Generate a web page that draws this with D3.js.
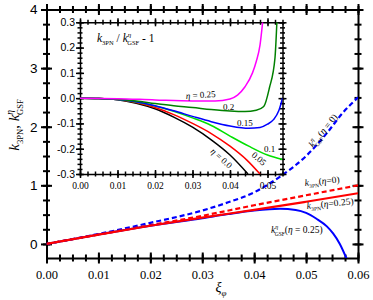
<!DOCTYPE html>
<html lang="en">
  <head>
    <meta charset="utf-8" />
    <title>k 3PN vs GSF</title>
    <script src="https://cdn.jsdelivr.net/npm/d3@7"></script>
    <style>
      body { margin: 0; background: white; }
      svg { display: block; }
    </style>
  </head>
  <body>
    <script>
      // main panel data
      const pnXi = [0, 0.01, 0.02, 0.03, 0.04, 0.05, 0.06];
      const k3pnEta0 = [0, 0.16, 0.32, 0.48, 0.66, 0.83, 1.0];
      const k3pnEta025 = [0, 0.16, 0.31, 0.45, 0.58, 0.72, 0.865];
      const gsfEta0Xi = [0, 0.01, 0.02, 0.03, 0.035, 0.04, 0.045, 0.05, 0.054, 0.057, 0.06];
      const gsfEta0 = [0, 0.17, 0.36, 0.57, 0.71, 0.88, 1.15, 1.5, 1.89, 2.23, 2.5];
      const gsfEta025Xi = [0, 0.01, 0.02, 0.03, 0.035, 0.04, 0.045, 0.048, 0.05, 0.052, 0.054, 0.0552, 0.0565, 0.0578];
      const gsfEta025 = [0, 0.16, 0.31, 0.44, 0.51, 0.57, 0.6, 0.58, 0.53, 0.43, 0.3, 0.18, 0.0, -0.25];

      // inset data: k_3PN / k_GSF - 1
      const insetEtas = ["0.0", "0.05", "0.1", "0.15", "0.2", "0.25"];
      const insetColors = ["#000000", "#ff0000", "#00e000", "#0000ff", "#008000", "#ff00ff"];
      const insetXi = [
        [0, 0.005, 0.01, 0.015, 0.02, 0.025, 0.03, 0.035, 0.04, 0.0448],
        [0, 0.005, 0.01, 0.015, 0.02, 0.025, 0.03, 0.035, 0.04, 0.0445, 0.048],
        [0, 0.005, 0.01, 0.015, 0.02, 0.025, 0.03, 0.035, 0.04, 0.045, 0.05, 0.054],
        [0, 0.005, 0.01, 0.015, 0.02, 0.025, 0.03, 0.035, 0.04, 0.045, 0.048, 0.05, 0.0516, 0.053, 0.054],
        [0, 0.005, 0.01, 0.015, 0.02, 0.025, 0.03, 0.035, 0.04, 0.044, 0.047, 0.049, 0.0505, 0.052, 0.0525],
        [0, 0.01, 0.02, 0.03, 0.036, 0.04, 0.042, 0.044, 0.046, 0.047, 0.048, 0.0487]
      ];
      const insetVals = [
        [0, -0.001, -0.006, -0.02, -0.042, -0.075, -0.115, -0.165, -0.225, -0.3],
        [0, -0.001, -0.005, -0.017, -0.037, -0.065, -0.1, -0.14, -0.19, -0.245, -0.3],
        [0, -0.001, -0.005, -0.015, -0.031, -0.052, -0.078, -0.108, -0.15, -0.19, -0.225, -0.243],
        [0, -0.001, -0.005, -0.014, -0.03, -0.05, -0.072, -0.093, -0.11, -0.119, -0.116, -0.103, -0.085, -0.05, 0.0],
        [0, -0.001, -0.004, -0.011, -0.021, -0.03, -0.037, -0.045, -0.051, -0.053, -0.048, -0.033, 0.04, 0.16, 0.3],
        [0, -0.002, -0.007, -0.011, -0.011, -0.003, 0.012, 0.045, 0.1, 0.145, 0.21, 0.3]
      ];

      const mainXTicks = [0, 0.01, 0.02, 0.03, 0.04, 0.05, 0.06];
      const mainYTicks = [0, 1, 2, 3, 4];
      const insetXTicks = [0, 0.01, 0.02, 0.03, 0.04, 0.05];
      const insetYTicks = [-0.3, -0.2, -0.1, 0.0, 0.1, 0.2, 0.3];

      const width = 373, height = 300;
      const serif = "'Liberation Serif', 'Times New Roman', Times, 'DejaVu Serif', serif";
      const sans = "'Liberation Sans', Arial, sans-serif";

      const svg = d3.select("body").append("svg")
        .attr("width", width).attr("height", height);

      const x = d3.scaleLinear().domain([0, 0.06]).range([46.5, 358]);
      const y = d3.scaleLinear().domain([-0.24, 4]).range([258, 9.5]);
      const xi = d3.scaleLinear().domain([0, 0.054]).range([80, 282.5]);
      const yi = d3.scaleLinear().domain([-0.3, 0.3]).range([174, 22.3]);

      const defs = svg.append("defs");
      defs.append("clipPath").attr("id", "clipMain").append("rect")
        .attr("x", 46.5).attr("y", 9.5).attr("width", 311.5).attr("height", 248.5);
      defs.append("clipPath").attr("id", "clipInset").append("rect")
        .attr("x", 80).attr("y", 22.3).attr("width", 202.5).attr("height", 151.7);

      // ticks that cross the axis line
      function crossTicks(g, len) {
        g.selectAll(".tick line").attr("y1", -len).attr("y2", len);
      }
      function crossTicksY(g, len) {
        g.selectAll(".tick line").attr("x1", -len).attr("x2", len);
      }

      function drawFrame(xs, ys, xMaj, xMin, yMaj, yMin, sw, majLen, minLen, xFmt, yFmt, xFont, yFont) {
        const [x0, x1] = xs.range();
        const [y0, y1] = ys.range();
        const groups = [
          { axis: d3.axisBottom(xs), tr: `translate(0,${y0})`, lab: true, hz: true },
          { axis: d3.axisTop(xs), tr: `translate(0,${y1})`, lab: false, hz: true },
          { axis: d3.axisLeft(ys), tr: `translate(${x0},0)`, lab: true, hz: false },
          { axis: d3.axisRight(ys), tr: `translate(${x1},0)`, lab: false, hz: false }
        ];
        groups.forEach(o => {
          // minor
          const minor = o.axis.scale().copy();
          const mAxis = (o.hz ? (o.lab ? d3.axisBottom(minor) : d3.axisTop(minor)) : (o.lab ? d3.axisLeft(minor) : d3.axisRight(minor)))
            .tickValues(o.hz ? xMin : yMin).tickFormat("").tickSizeOuter(0);
          const gm = svg.append("g").attr("transform", o.tr).call(mAxis);
          gm.select(".domain").remove();
          gm.selectAll(".tick line").attr("stroke", "#000").attr("stroke-width", sw);
          o.hz ? crossTicks(gm, minLen) : crossTicksY(gm, minLen);

          o.axis.tickValues(o.hz ? xMaj : yMaj).tickSizeOuter(0)
            .tickFormat(o.lab ? (o.hz ? xFmt : yFmt) : "");
          const g = svg.append("g").attr("transform", o.tr).call(o.axis);
          g.select(".domain").attr("stroke", "#000").attr("stroke-width", sw);
          g.selectAll(".tick line").attr("stroke", "#000").attr("stroke-width", sw);
          o.hz ? crossTicks(g, majLen) : crossTicksY(g, majLen);
          g.attr("font-family", null);
          g.selectAll(".tick text").attr("fill", "#000");
          if (o.lab) {
            if (o.hz) {
              g.selectAll(".tick text").style("font-family", serif).attr("font-size", xFont.size)
                .attr("y", xFont.y);
            } else {
              g.selectAll(".tick text").style("font-family", sans).attr("font-size", yFont.size)
                .attr("x", yFont.x);
            }
          }
        });
      }

      const mainXMin = d3.range(0, 0.06001, 0.0025);
      const mainYMin = d3.range(-0.25, 4.001, 0.25).filter(v => v >= -0.24);
      drawFrame(x, y, mainXTicks, mainXMin, mainYTicks, mainYMin, 2, 5.5, 3.5,
        d => d.toFixed(2), d => d3.format("d")(d),
        { size: 12.5, y: 12 }, { size: 13.5, x: -9 });

      // main curves
      const lineMain = d3.line().x(d => x(d[0])).y(d => y(d[1])).curve(d3.curveMonotoneX);
      const mainG = svg.append("g").attr("clip-path", "url(#clipMain)");
      mainG.append("path").datum(d3.zip(gsfEta0Xi, gsfEta0)).attr("d", lineMain)
        .attr("fill", "none").attr("stroke", "#0000ff").attr("stroke-width", 2.2).attr("stroke-dasharray", "5,3");
      mainG.append("path").datum(d3.zip(pnXi, k3pnEta0)).attr("d", lineMain)
        .attr("fill", "none").attr("stroke", "#ff0000").attr("stroke-width", 2.2).attr("stroke-dasharray", "5,3");
      mainG.append("path").datum(d3.zip(gsfEta025Xi, gsfEta025)).attr("d", lineMain)
        .attr("fill", "none").attr("stroke", "#0000ff").attr("stroke-width", 2);
      mainG.append("path").datum(d3.zip(pnXi, k3pnEta025)).attr("d", lineMain)
        .attr("fill", "none").attr("stroke", "#ff0000").attr("stroke-width", 2.2);

      // text with sub/superscripts
      function richText(px, py, rot, size, parts, anchor) {
        const t = svg.append("text")
          .attr("transform", `translate(${px},${py}) rotate(${rot})`)
          .style("font-family", serif).attr("font-size", size).attr("fill", "#000")
          .attr("text-anchor", anchor || "start");
        parts.forEach(p => {
          const s = t.append("tspan").text(p.t);
          if (p.dy) s.attr("dy", p.dy);
          if (p.dx) s.attr("dx", p.dx);
          if (p.size) s.attr("font-size", p.size);
          if (p.it) s.attr("font-style", "italic");
        });
        return t;
      }

      // main curve labels
      richText(313, 148, -51, 9.5, [
        { t: "k", it: true }, { t: "η", it: true, dy: -4, size: 6 },
        { t: "GSF", dy: 7, dx: -3.5, size: 5.5 }, { t: "(", dy: -3 }, { t: "η", it: true }, { t: " = 0)" }
      ]);
      richText(305, 186, -6, 9.5, [
        { t: "k", it: true }, { t: "3PN", dy: 2.5, size: 5.5 }, { t: "(", dy: -2.5 }, { t: "η", it: true }, { t: "=0)" }
      ]);
      richText(307, 209, -6, 9.5, [
        { t: "k", it: true }, { t: "3PN", dy: 2.5, size: 5.5 }, { t: "(", dy: -2.5 }, { t: "η", it: true }, { t: "=0.25)" }
      ]);
      richText(271, 233, 0, 9.5, [
        { t: "k", it: true }, { t: "η", it: true, dy: -4, size: 6 },
        { t: "GSF", dy: 6.5, dx: -3.5, size: 5.5 }, { t: "(", dy: -2.5 }, { t: "η", it: true }, { t: " = 0.25)" }
      ]);

      // axis titles
      richText(19, 125, -90, 15, [
        { t: "k", it: true }, { t: "3PN", dy: 3.5, size: 8.5 }, { t: ", ", dy: -3.5 },
        { t: "k", it: true }, { t: "η", it: true, dy: -6, size: 9.5 },
        { t: "GSF", dy: 10, dx: -5, size: 8.5 }
      ], "middle");
      richText(221, 292, 0, 14, [
        { t: "ξ", it: true }, { t: "φ", it: true, dy: 3.5, size: 9 }
      ], "middle");

      // inset
      svg.append("rect").attr("x", 80).attr("y", 22.3).attr("width", 202.5).attr("height", 151.7)
        .attr("fill", "white");
      const insetXMin = d3.range(0, 0.0541, 0.002);
      const insetYMin = d3.range(-30, 31, 2).map(v => v / 100);
      drawFrame(xi, yi, insetXTicks, insetXMin, insetYTicks, insetYMin, 1.5, 4, 2.5,
        d => d.toFixed(2), d => d.toFixed(1),
        { size: 9.5, y: 8 }, { size: 10.5, x: -5 });

      const lineIn = d3.line().x(d => xi(d[0])).y(d => yi(d[1])).curve(d3.curveMonotoneX);
      const inG = svg.append("g").attr("clip-path", "url(#clipInset)");
      insetEtas.forEach((eta, i) => {
        inG.append("path").datum(d3.zip(insetXi[i], insetVals[i])).attr("d", lineIn)
          .attr("fill", "none").attr("stroke", insetColors[i]).attr("stroke-width", 1.5);
      });

      // inset labels
      richText(97, 42, 0, 11.5, [
        { t: "k", it: true }, { t: "3PN", dy: 3, size: 6.5 }, { t: " / ", dy: -3 },
        { t: "k", it: true }, { t: "η", it: true, dy: -5, size: 7 },
        { t: "GSF", dy: 8, dx: -4, size: 6.5 }, { t: " - 1", dy: -3 }
      ]);
      richText(186, 99, -4, 9, [{ t: "η", it: true }, { t: " = " + insetEtas[5] }]);
      richText(223, 110, 0, 9, [{ t: insetEtas[4] }]);
      richText(237, 126, 0, 9, [{ t: insetEtas[3] }]);
      richText(264, 152, 0, 9, [{ t: insetEtas[2] }]);
      richText(251, 156, 40, 9, [{ t: insetEtas[1] }]);
      richText(210, 152, 42, 9, [{ t: "η", it: true }, { t: " = " + insetEtas[0] }]);
    </script>
  </body>
</html>
